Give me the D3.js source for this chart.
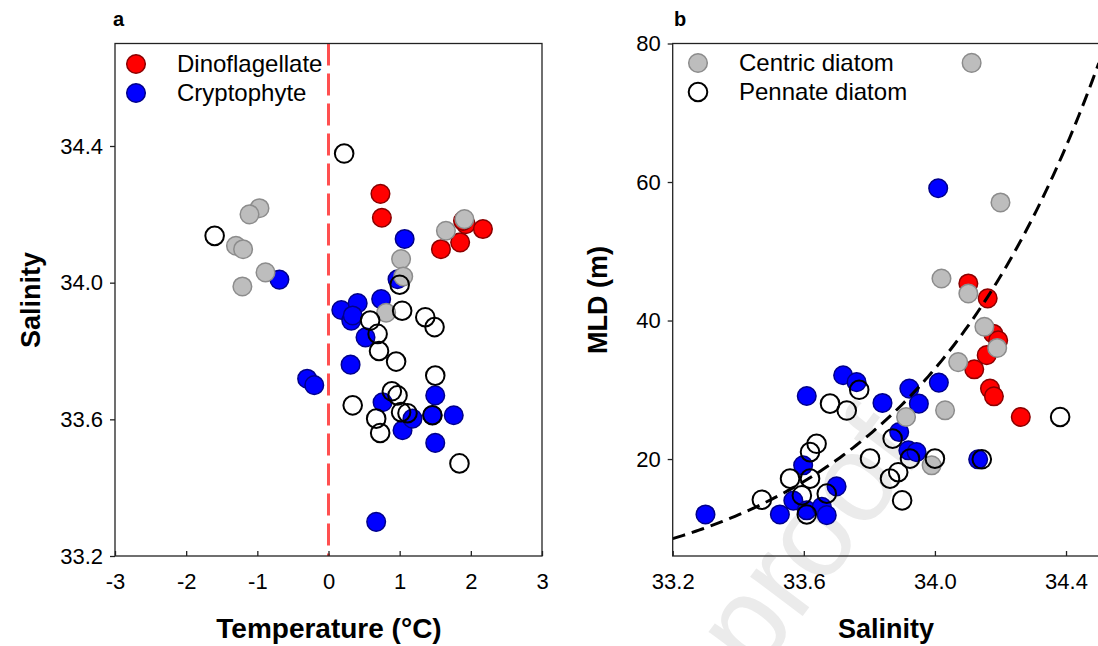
<!DOCTYPE html>
<html>
<head>
<meta charset="utf-8">
<script src="https://d3js.org/d3.v7.min.js"></script>
<style>
  body { margin: 0; background: #fff; }
  svg { display: block; font-family: "Liberation Sans", Arial, sans-serif; }
  .tick text { font-size: 22px; fill: #000; }
  .tick line { stroke: #222; stroke-width: 1.3; }
</style>
</head>
<body>
<svg id="chart" width="1098" height="646"></svg>
<script>
// ---- panel a: temperature vs salinity ----
const dinoTempA = [0.73, 0.75, 1.58, 1.85, 1.93, 1.89, 2.17];
const dinoSalA = [34.26, 34.19, 34.098, 34.118, 34.171, 34.181, 34.157];

const cryptoTempA = [0.18, 0.41, 0.74, 0.32, 0.34, 0.52, 0.31, 0.76, 1.50, 1.04,
  1.18, 1.46, 1.76, 1.50, -0.30, -0.20, 0.67, 1.07, 0.97, -0.69];
const cryptoSalA = [33.92, 33.94, 33.952, 33.889, 33.904, 33.84, 33.76, 33.65, 33.67, 33.568,
  33.602, 33.612, 33.612, 33.531, 33.719, 33.70, 33.30, 34.128, 34.01, 34.009];

const centricTempA = [1.02, 1.05, 0.81, -0.97, -1.11, -1.30, -1.20, -0.885, -1.21, 1.65, 1.91];
const centricSalA = [34.069, 34.018, 33.912, 34.218, 34.20, 34.108, 34.098, 34.03, 33.989, 34.152, 34.186];

const pennateTempA = [0.22, -1.60, 1.0, 1.035, 0.585, 0.69, 0.71, 0.95, 1.36, 1.49,
  1.50, 0.34, 0.89, 0.97, 1.02, 1.11, 1.46, 0.67, 0.726, 1.84];
const pennateSalA = [34.378, 34.137, 33.994, 33.918, 33.889, 33.85, 33.80, 33.769, 33.899, 33.87,
  33.728, 33.641, 33.682, 33.67, 33.621, 33.618, 33.612, 33.602, 33.56, 33.471];

// ---- panel b: salinity vs MLD ----
const dinoSalB = [34.102, 34.161, 34.178, 34.193, 34.158, 34.12, 34.168, 34.18, 34.262];
const dinoMldB = [45.35, 43.2, 38.1, 37.15, 35.0, 32.96, 30.17, 29.06, 26.07];

const cryptoSalB = [34.01, 34.012, 33.922, 33.84, 33.951, 33.891, 33.919, 33.944, 34.132, 33.72,
  33.761, 33.609, 33.598, 33.70, 33.30, 33.527, 33.568, 33.609, 33.655, 33.67];
const cryptoMldB = [59.1, 31.04, 30.17, 28.1, 28.0, 23.9, 21.26, 21.0, 19.96, 32.1,
  31.1, 29.1, 19.1, 16.05, 12.0, 12.0, 14.0, 12.6, 13.1, 11.9];

const centricSalB = [34.112, 34.20, 34.02, 34.102, 34.151, 34.19, 34.071, 34.031, 33.912, 33.99];
const centricMldB = [77.2, 57.05, 46.07, 43.9, 39.1, 36.04, 34.0, 27.04, 26.07, 19.1];

const pennateSalB = [34.382, 33.871, 33.924, 34.0, 34.143, 33.802, 33.888, 33.863, 33.90, 33.769,
  33.68, 33.731, 33.639, 33.619, 33.558, 33.619, 33.594, 33.67, 33.609, 33.472];
const pennateMldB = [26.07, 22.95, 20.06, 20.06, 19.96, 20.06, 18.1, 17.17, 14.03, 30.0,
  28.0, 27.0, 22.2, 21.0, 17.17, 17.17, 14.75, 15.0, 12.0, 14.13];

// exponential fit MLD = fitA * exp(fitB * (S - 33.2))
const fitA = 8.5;
const fitB = 1.697;

const tempTicks = [-3, -2, -1, 0, 1, 2, 3];
const salTicks = [33.2, 33.6, 34.0, 34.4];
const mldTicks = [20, 40, 60, 80];

const styles = {
  dino:    { fill: '#ff0000', stroke: '#8a0000', sw: 1.5 },
  crypto:  { fill: '#0000ff', stroke: '#00008a', sw: 1.5 },
  centric: { fill: '#bdbdbd', stroke: '#8c8c8c', sw: 1.5 },
  pennate: { fill: 'none',    stroke: '#000000', sw: 2 }
};
const R = 9.3;

const svg = d3.select('#chart');

function zip(xs, ys) { return xs.map((x, i) => [x, ys[i]]); }

function drawPoints(g, x, y, data, st) {
  g.append('g').selectAll('circle')
    .data(data)
    .enter()
    .append('circle')
    .attr('cx', d => x(d[0]))
    .attr('cy', d => y(d[1]))
    .attr('r', R)
    .attr('fill', st.fill)
    .attr('stroke', st.stroke)
    .attr('stroke-width', st.sw);
}

function legend(g, x0, y0, items) {
  items.forEach((it, i) => {
    const st = styles[it.key];
    g.append('circle')
      .attr('cx', x0).attr('cy', y0 + i * 29).attr('r', R)
      .attr('fill', st.fill).attr('stroke', st.stroke).attr('stroke-width', st.sw);
    g.append('text')
      .attr('x', x0 + 41).attr('y', y0 + i * 29 + 8)
      .attr('font-size', '24px')
      .text(it.label);
  });
}

// hyphen minus like the original, not the unicode minus
const plainInt = d => String(d);
const oneDec = d => d.toFixed(1);

// ===== Panel a =====
{
  const x = d3.scaleLinear().domain([-3, 3]).range([115, 542]);
  const y = d3.scaleLinear().domain([33.2, 34.7]).range([556, 43.5]);
  const g = svg.append('g');

  g.append('defs').append('clipPath').attr('id', 'clipA')
    .append('rect').attr('x', 115).attr('y', 43.5).attr('width', 427).attr('height', 512.5);

  // zero line
  g.append('line')
    .attr('x1', x(0)).attr('x2', x(0))
    .attr('y1', y(34.7)).attr('y2', y(33.2))
    .attr('stroke', '#ff4f4f').attr('stroke-width', 3)
    .attr('stroke-dasharray', '22,8');

  const pts = g.append('g').attr('clip-path', 'url(#clipA)');
  drawPoints(pts, x, y, zip(dinoTempA, dinoSalA), styles.dino);
  drawPoints(pts, x, y, zip(cryptoTempA, cryptoSalA), styles.crypto);
  drawPoints(pts, x, y, zip(centricTempA, centricSalA), styles.centric);
  drawPoints(pts, x, y, zip(pennateTempA, pennateSalA), styles.pennate);

  g.append('g')
    .attr('transform', 'translate(0,556)')
    .call(d3.axisBottom(x).tickValues(tempTicks).tickSize(-5).tickPadding(17).tickFormat(plainInt))
    .call(a => a.select('.domain').remove());
  g.append('g')
    .attr('transform', 'translate(115,0)')
    .call(d3.axisLeft(y).tickValues(salTicks).tickSize(5).tickPadding(7).tickFormat(oneDec))
    .call(a => a.select('.domain').remove());

  g.append('rect')
    .attr('x', 115).attr('y', 43.5).attr('width', 427).attr('height', 512.5)
    .attr('fill', 'none').attr('stroke', '#222').attr('stroke-width', 1.3);

  legend(g, 136, 64, [
    { key: 'dino', label: 'Dinoflagellate' },
    { key: 'crypto', label: 'Cryptophyte' }
  ]);

  g.append('text').attr('x', 113).attr('y', 26)
    .attr('font-size', '20px').attr('font-weight', 'bold').text('a');
  g.append('text').attr('x', 329).attr('y', 638)
    .attr('text-anchor', 'middle').attr('font-size', '28px').attr('font-weight', 'bold')
    .text('Temperature (°C)');
  g.append('text')
    .attr('transform', 'translate(40,300) rotate(-90)')
    .attr('text-anchor', 'middle').attr('font-size', '27px').attr('font-weight', 'bold')
    .text('Salinity');
}

// ===== Panel b =====
{
  const x = d3.scaleLinear().domain([33.2, 34.5]).range([672.7, 1098.8]);
  const y = d3.scaleLinear().domain([6, 80]).range([556, 43.5]);
  const g = svg.append('g');

  g.append('defs').append('clipPath').attr('id', 'clipB')
    .append('rect').attr('x', 672.7).attr('y', 43.5).attr('width', 426.1).attr('height', 512.5);

  // watermark
  g.append('text')
    .attr('transform', 'translate(926,452) rotate(-53)')
    .attr('text-anchor', 'end')
    .attr('font-size', '124px')
    .attr('fill', '#ebebeb')
    .text('Journal Pre-proof');

  const pts = g.append('g').attr('clip-path', 'url(#clipB)');
  drawPoints(pts, x, y, zip(dinoSalB, dinoMldB), styles.dino);
  drawPoints(pts, x, y, zip(cryptoSalB, cryptoMldB), styles.crypto);
  drawPoints(pts, x, y, zip(centricSalB, centricMldB), styles.centric);
  drawPoints(pts, x, y, zip(pennateSalB, pennateMldB), styles.pennate);

  // fitted curve
  const fitS = d3.range(33.2, 34.5001, 0.01);
  pts.append('path')
    .datum(fitS)
    .attr('d', d3.line().x(s => x(s)).y(s => y(fitA * Math.exp(fitB * (s - 33.2)))))
    .attr('fill', 'none').attr('stroke', '#000').attr('stroke-width', 3)
    .attr('stroke-dasharray', '13,7');

  g.append('g')
    .attr('transform', 'translate(0,556)')
    .call(d3.axisBottom(x).tickValues(salTicks).tickSize(-5).tickPadding(17).tickFormat(oneDec))
    .call(a => a.select('.domain').remove());
  g.append('g')
    .attr('transform', 'translate(672.7,0)')
    .call(d3.axisLeft(y).tickValues(mldTicks).tickSize(5).tickPadding(7).tickFormat(plainInt))
    .call(a => a.select('.domain').remove());

  g.append('rect')
    .attr('x', 672.7).attr('y', 43.5).attr('width', 426.1).attr('height', 512.5)
    .attr('fill', 'none').attr('stroke', '#222').attr('stroke-width', 1.3);

  legend(g, 698, 63, [
    { key: 'centric', label: 'Centric diatom' },
    { key: 'pennate', label: 'Pennate diatom' }
  ]);

  g.append('text').attr('x', 674).attr('y', 26)
    .attr('font-size', '20px').attr('font-weight', 'bold').text('b');
  g.append('text').attr('x', 886).attr('y', 638)
    .attr('text-anchor', 'middle').attr('font-size', '27px').attr('font-weight', 'bold')
    .text('Salinity');
  g.append('text')
    .attr('transform', 'translate(607,300) rotate(-90)')
    .attr('text-anchor', 'middle').attr('font-size', '27px').attr('font-weight', 'bold')
    .text('MLD (m)');
}
</script>
</body>
</html>
